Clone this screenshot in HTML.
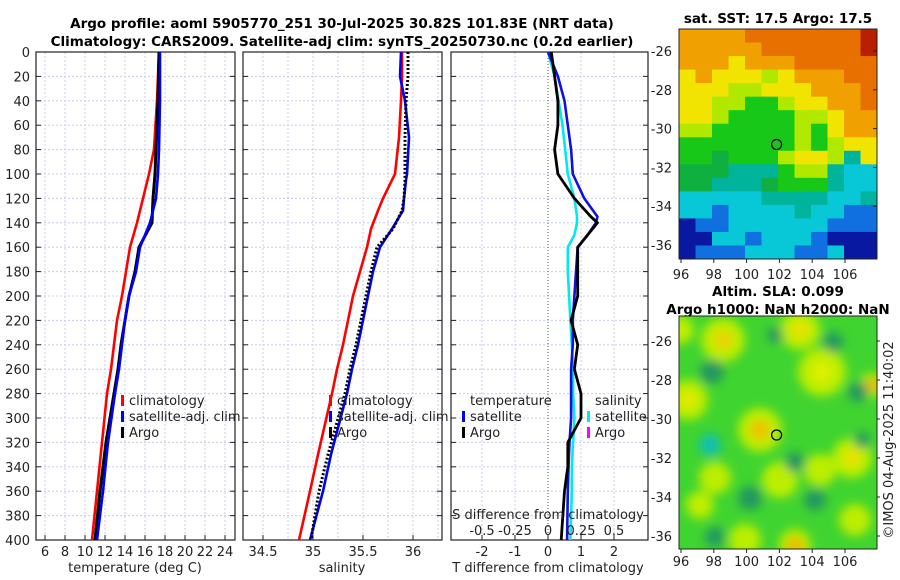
<!DOCTYPE html>
<html><head><meta charset="utf-8"><style>
body{margin:0;background:#fff;}
svg{display:block;font-family:"DejaVu Sans","Liberation Sans",sans-serif;}
.t{font-size:13px;fill:#222;}
.b{font-weight:bold;font-size:13.5px;fill:#000;}
</style></head><body>
<svg id="s" width="900" height="580" viewBox="0 0 900 580" xmlns="http://www.w3.org/2000/svg">
<text class="b" x="342" y="28" text-anchor="middle">Argo profile: aoml 5905770_251 30-Jul-2025 30.82S 101.83E (NRT data)</text>
<text class="b" x="342" y="46" text-anchor="middle">Climatology: CARS2009. Satellite-adj clim: synTS_20250730.nc (0.2d earlier)</text>
<g id="g"></g>
</svg>
<script>
// ---- data ----
const tDepth = [0,40,80,100,120,140,160,180,200,220,240,260,280,320,360,400];
const tClim  = [17.4,17.2,16.9,16.4,15.8,15.2,14.5,14.1,13.7,13.2,12.9,12.6,12.2,11.7,11.2,10.7];
const tSat   = [17.5,17.5,17.4,17.3,17.1,16.5,15.5,15.1,14.4,14.0,13.7,13.4,13.0,12.3,11.8,11.2];
const tArgo  = [17.4,17.3,17.1,17.0,16.8,16.7,15.4,15.0,14.4,14.0,13.6,13.3,12.9,12.1,11.5,11.0];
const sDepth = [0,20,40,70,100,105,120,130,145,160,180,200,220,240,260,280,330,360,400];
const sClim  = [35.89,35.89,35.88,35.86,35.82,35.79,35.70,35.65,35.58,35.54,35.47,35.40,35.35,35.30,35.24,35.19,35.05,34.97,34.86];
const sSat   = [35.88,35.87,35.92,35.96,35.94,35.93,35.91,35.90,35.79,35.67,35.60,35.55,35.50,35.45,35.39,35.34,35.18,35.10,34.97];
const sArgo  = [35.95,35.95,35.93,35.92,35.92,35.92,35.91,35.89,35.80,35.64,35.58,35.53,35.48,35.43,35.37,35.32,35.15,35.06,34.98];
const dDepth = [0,20,40,60,80,100,120,135,140,150,160,180,200,220,240,260,280,300,320,340,360,400];
const dTSat  = [0.0,0.3,0.5,0.6,0.7,0.75,1.1,1.5,1.45,1.2,0.9,0.85,0.8,0.75,0.75,0.7,0.7,0.7,0.65,0.62,0.6,0.58];
const dTArgo = [0.1,0.2,0.3,0.3,0.2,0.3,0.8,1.3,1.5,1.2,0.9,0.9,0.9,0.7,0.9,0.8,1.0,1.0,0.6,0.6,0.5,0.4];
const dSSat  = [0.0,0.05,0.08,0.11,0.13,0.15,0.2,0.22,0.22,0.2,0.15,0.15,0.16,0.17,0.18,0.19,0.19,0.2,0.19,0.18,0.18,0.17];
const tTicks = [6,8,10,12,14,16,18,20,22,24];
const sTicks = [34.5,35,35.5,36];
const dTicks = [-2,-1,0,1,2];
const dsTicks = [-0.5,-0.25,0,0.25,0.5];
const dsLabels = ['-0.5','-0.25','0','0.25','0.5'];
const zTicks = [0,20,40,60,80,100,120,140,160,180,200,220,240,260,280,300,320,340,360,380,400];
const latTicks = [-26,-28,-30,-32,-34,-36];
const lonTicks = [96,98,100,102,104,106];
// ---- helpers ----
const NS="http://www.w3.org/2000/svg", G=document.getElementById('g');
function mk(tag,at,parent){const e=document.createElementNS(NS,tag);for(const k in at)e.setAttribute(k,at[k]);(parent||G).appendChild(e);return e;}
const Y0=52,Y1=540, yz=d=>Y0+d*(Y1-Y0)/400;
const xT=v=>45+(v-6)*10, xS=v=>313+(v-35)*100, xD=v=>548+v*33, xDS=v=>548+v*132;
function panel(x0,x1,name,gridXs){
  const g=mk('g',{});
  
  
  gridXs.forEach(x=>mk('line',{x1:x,x2:x,y1:Y0,y2:Y1,stroke:'#c8cde8','stroke-dasharray':'2,2','stroke-width':1},g));
  zTicks.forEach(z=>{mk('line',{x1:x0,x2:x1,y1:yz(z),y2:yz(z),stroke:'#c8cde8','stroke-dasharray':'2,2'},g);
    mk('line',{x1:x0,x2:x0+5,y1:yz(z),y2:yz(z),stroke:'#222'},g);mk('line',{x1:x1-5,x2:x1,y1:yz(z),y2:yz(z),stroke:'#222'},g);});
  mk('rect',{x:x0,y:Y0,width:x1-x0,height:Y1-Y0,fill:'none',stroke:'#222','stroke-width':1.2},g);
  return g;
}
function line(xs,ds,sx,col,name,dash,w){
  const p=mk('path',{d:xs.map((v,i)=>(i?'L':'M')+sx(v).toFixed(1)+','+yz(ds[i]).toFixed(1)).join(''),fill:'none',stroke:col,'stroke-width':w||2.6,'stroke-linejoin':'round'});
  if(dash)p.setAttribute('stroke-dasharray',dash);
  
  
}
function txt(x,y,s,anchor,name,cls){const t=mk('text',{x:x,y:y,'text-anchor':anchor||'middle',class:cls||'t'});t.textContent=s;
  
  return t;}
zTicks.forEach(z=>txt(30,yz(z)+5,String(z),'end','depth-tick-label'));
// panel 1
const g1=[];for(let v=6;v<=24;v+=2)g1.push(xT(v));
panel(36,235,'temperature-panel',g1);
tTicks.forEach(v=>{mk('line',{x1:xT(v),x2:xT(v),y1:Y1-5,y2:Y1,stroke:'#222'});txt(xT(v),556,String(v),'middle','temperature-tick-label');});
line(tClim,tDepth,xT,'#f00','temperature-climatology-line');
line(tArgo,tDepth,xT,'#000','temperature-argo-line',null,3);
line(tSat,tDepth,xT,'#00f','temperature-satellite-line');
txt(135,572,'temperature (deg C)','middle','temperature-axis-title');
// panel 2
const g2=[];for(let v=34.25;v<=36.25;v+=0.25)g2.push(xS(v));
panel(243,442,'salinity-panel',g2.filter(x=>x>243&&x<442));
sTicks.forEach(v=>{mk('line',{x1:xS(v),x2:xS(v),y1:Y1-5,y2:Y1,stroke:'#222'});txt(xS(v),556,String(v),'middle','salinity-tick-label');});
line(sClim,sDepth,xS,'#f00','salinity-climatology-line');
line(sSat,sDepth,xS,'#00f','salinity-satellite-line');
line(sArgo,sDepth,xS,'#000','salinity-argo-line','2,2',3);
txt(342,572,'salinity','middle','salinity-axis-title');
// panel 3
panel(451,648,'difference-panel',[482,515,581,614]);
mk('line',{x1:548,x2:548,y1:Y0,y2:Y1,stroke:'#4a6a3a','stroke-dasharray':'1,2'});
dTicks.forEach(v=>{mk('line',{x1:xD(v),x2:xD(v),y1:Y1-5,y2:Y1,stroke:'#222'});txt(xD(v),556,String(v),'middle','t-difference-tick-label');});
line(dSSat,dDepth,xDS,'#00e8f0','salinity-satellite-diff-line');
line(dTSat,dDepth,xD,'#1010e0','temperature-satellite-diff-line');
line(dTArgo,dDepth,xD,'#000','temperature-argo-diff-line',null,2.8);
txt(548,519,'S difference from climatology','middle','s-difference-axis-title');
dsTicks.forEach((v,i)=>txt(xDS(v),535,dsLabels[i],'middle','s-difference-tick-label'));
txt(548,572,'T difference from climatology','middle','t-difference-axis-title');
// legends
function leg(x,y,col,label,name){mk('rect',{x:x,y:y-10,width:3,height:11,fill:col});txt(x+8,y,label,'start',name);}
leg(121,405,'#f00','climatology','legend-climatology');leg(121,421,'#00f','satellite-adj. clim','legend-satellite-adj');leg(121,437,'#000','Argo','legend-argo');
leg(329,405,'#f00','climatology','legend-climatology');leg(329,421,'#00f','satellite-adj. clim','legend-satellite-adj');leg(329,437,'#000','Argo','legend-argo');
txt(470,405,'temperature','start','legend-temperature-header');leg(462,421,'#00f','satellite','legend-t-satellite');leg(462,437,'#000','Argo','legend-t-argo');
txt(595,405,'salinity','start','legend-salinity-header');leg(587,421,'#00e8f0','satellite','legend-s-satellite');leg(587,437,'#f0f','Argo','legend-s-argo');
// ---- maps ----
const MX0=679,MX1=877,lonX=v=>681+(v-96)*16.4;
const cmap={o:'#f0a000',r:'#e87000',d:'#b82000',y:'#f0e400',l:'#b0e800',g:'#18c818',G:'#10b040',t:'#00b49c',c:'#08c8d8',b:'#1070e0',n:'#0818a0'};
const sstRows=["oooorrrrrrrd","ooooorrrrrrd","oooyooorrrrr","yoyyylyooorr","yyyllyyyooor","yyllgglyyoor","yylggggllyoo","llggggglgyoo","ggggggglglyy","ggGggglyylty","GGGtttglltcc","GGtttGgggtcc","cccccttttcct","ccbcccctccbb","nbbccccccbbb","nnccbcccbnnn","nbbbcccbbcnn"];
const m1=mk('g',{});


const ch=(259-29)/sstRows.length,cw=(MX1-MX0)/12;
sstRows.forEach((r,i)=>[...r].forEach((c,j)=>mk('rect',{x:MX0+j*cw,y:29+i*ch,width:cw+0.5,height:ch+0.5,fill:cmap[c]},m1)));
mk('rect',{x:MX0,y:29,width:MX1-MX0,height:230,fill:'none',stroke:'#222'},m1);
const lat1=v=>51+(-26-v)*19.4, lat2=v=>341+(-26-v)*19.5;
latTicks.forEach(v=>{txt(672,lat1(v)+5,String(v),'end','sst-lat-label');mk('line',{x1:MX1-4,x2:MX1,y1:lat1(v),y2:lat1(v),stroke:'#222'});
  txt(672,lat2(v)+5,String(v),'end','sla-lat-label');mk('line',{x1:MX1-4,x2:MX1+3,y1:lat2(v),y2:lat2(v),stroke:'#222'});});
lonTicks.forEach(v=>{txt(lonX(v),279,String(v),'middle','sst-lon-label');mk('line',{x1:lonX(v),x2:lonX(v),y1:259,y2:263,stroke:'#222'});
  txt(lonX(v),566,String(v),'middle','sla-lon-label');mk('line',{x1:lonX(v),x2:lonX(v),y1:549,y2:553,stroke:'#222'});});
mk('circle',{cx:lonX(101.83),cy:lat1(-30.82),r:5,fill:'none',stroke:'#000','stroke-width':1.3});
txt(778,23,'sat. SST: 17.5 Argo: 17.5','middle','sst-map-title','b');
txt(778,296,'Altim. SLA: 0.099','middle','sla-map-title','b');
txt(778,314,'Argo h1000: NaN h2000: NaN','middle','sla-argo-title','b');
// map2
const m2=mk('g',{});


const defs=mk('defs',{});const f=mk('filter',{id:'bl',x:'-50%',y:'-50%',width:'200%',height:'200%'},defs);mk('feGaussianBlur',{stdDeviation:5},f);
const cp=mk('clipPath',{id:'cp'},defs);mk('rect',{x:MX0,y:316,width:MX1-MX0,height:233},cp);
const bg=mk('g',{'clip-path':'url(#cp)'},m2);
mk('rect',{x:MX0,y:316,width:MX1-MX0,height:233,fill:'#40d430'},bg);
const bl=mk('g',{filter:'url(#bl)'},bg);
[[723,340,22],[800,330,20],[688,400,20],[760,430,22],[822,372,24],[852,458,20],[820,470,16],[780,480,18],[715,478,16],[745,540,16],[795,545,16],[855,520,16],[872,385,12],[680,330,14],[700,505,14]
].forEach(b=>mk('circle',{cx:b[0],cy:b[1],r:b[2],fill:'#bcee00'},bl));
[[723,340,9,'#f0d000'],[760,430,10,'#f0c000'],[795,545,8,'#f0b000'],[852,458,8,'#f0e000'],[800,330,8,'#f0e000'],[872,385,6,'#f0a000'],[688,400,8,'#e8e800'],[822,372,10,'#e0f000']
].forEach(b=>mk('circle',{cx:b[0],cy:b[1],r:b[2],fill:b[3]},bl));
[[712,372,12,'#209860'],[710,445,11,'#10c0b0'],[795,462,10,'#209860'],[833,342,10,'#209860'],[750,498,12,'#209860'],[815,500,11,'#209860'],[715,537,10,'#209860'],[775,335,8,'#209860'],[858,392,10,'#209860'],[862,440,8,'#209860']
].forEach(b=>mk('circle',{cx:b[0],cy:b[1],r:b[2],fill:b[3]},bl));
mk('rect',{x:MX0,y:316,width:MX1-MX0,height:233,fill:'none',stroke:'#222'},m2);
mk('circle',{cx:lonX(101.83),cy:lat2(-30.82),r:5,fill:'none',stroke:'#000','stroke-width':1.3});
const c=txt(0,0,'©IMOS 04-Aug-2025 11:40:02','middle','timestamp-label');c.setAttribute('transform','translate(893,440) rotate(-90)');
</script>
</body></html>
